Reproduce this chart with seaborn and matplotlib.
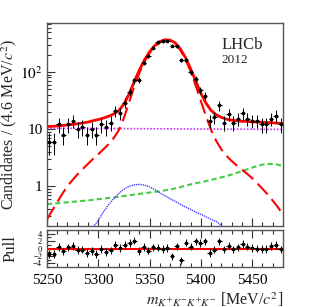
import numpy as np
import pandas as pd
import matplotlib
matplotlib.use("Agg")
import matplotlib.pyplot as plt
import seaborn as sns
from matplotlib.ticker import FixedLocator, FixedFormatter, MultipleLocator, LogLocator, NullFormatter

# binned data: 50 bins of 4.6 MeV from 5250 to 5480
bin_lo = 5250.0
bin_w = 4.6
counts = [6, 6, 12, 8, 12, 14, 10, 11, 8, 10,
          8, 12, 11, 13, 21, 19, 29, 44, 71, 72,
          144, 188, 264, 332, 345, 354, 290, 282, 160, 160,
          100, 76, 48, 38, 14, 16, 26, 13, 18, 13,
          15, 19, 15, 14, 14, 12, 12, 15, 17, 12]
pulls = [-1.5, -1.5, 0.4, -0.8, 0.3, 0.7, -0.4, -0.3, -1.2, -0.7,
         -1.5, -0.1, -0.9, -0.5, 0.9, 0.1, 0.9, 1.5, 2.1, -0.7,
         0.4, -0.6, 0.3, 0.2, -0.1, 0.1, -2.1, 0.6, -3.2, 1.6,
         0.5, 1.9, 1.5, 1.9, -1.2, -0.3, 1.9, -0.2, 0.8, -0.2,
         0.3, 1.2, 0.5, 0.1, 0.0, -0.1, -0.1, 0.7, 1.0, -0.2]

# fit components, every 5 MeV from 5250 to 5480
mass_grid = list(range(5250, 5481, 5))
signal = [0.26, 0.37, 0.52, 0.73, 1.0, 1.28, 1.62, 2.0, 2.45, 3.0,
          3.6, 4.4, 5.4, 6.9, 9.5, 15.5, 29, 55, 95, 150,
          213, 278, 328, 355, 350, 313, 243, 168, 103, 58,
          31, 17, 9.6, 6.2, 4.4, 3.4, 2.75, 2.3, 1.95, 1.65,
          1.38, 1.12, 0.9, 0.72, 0.56, 0.43, 0.32]
comb_bkg = [10.30, 10.29, 10.28, 10.27, 10.26, 10.25, 10.24, 10.23, 10.22, 10.21,
            10.20, 10.19, 10.18, 10.17, 10.16, 10.15, 10.14, 10.13, 10.12, 10.11,
            10.10, 10.09, 10.08, 10.07, 10.06, 10.05, 10.04, 10.03, 10.02, 10.01,
            10.00, 9.99, 9.98, 9.97, 9.96, 9.95, 9.94, 9.93, 9.92, 9.91,
            9.90, 9.89, 9.88, 9.87, 9.86, 9.85, 9.84]
part_reco = [0.48, 0.49, 0.50, 0.51, 0.52, 0.53, 0.54, 0.55, 0.56, 0.575,
             0.59, 0.60, 0.62, 0.63, 0.65, 0.67, 0.69, 0.71, 0.73, 0.75,
             0.77, 0.79, 0.81, 0.84, 0.87, 0.91, 0.96, 1.01, 1.07, 1.12,
             1.17, 1.22, 1.28, 1.35, 1.42, 1.50, 1.59, 1.70, 1.82, 1.96,
             2.10, 2.25, 2.37, 2.44, 2.44, 2.37, 2.26]
peaking = [np.nan] * 9 + [0.19, 0.25, 0.35, 0.47, 0.60, 0.74, 0.88, 0.99, 1.05, 1.07,
           1.04, 0.97, 0.87, 0.76, 0.68, 0.60, 0.54, 0.48, 0.43, 0.39,
           0.35, 0.32, 0.29, 0.26, 0.24, 0.205] + [np.nan] * 12

centres = bin_lo + bin_w * (np.arange(len(counts)) + 0.5)
counts = np.array(counts, dtype=float)

curves = pd.DataFrame({"m": mass_grid, "sig": signal, "comb": comb_bkg,
                       "part": part_reco, "peak": peaking})
# total fit is the sum of the components
curves["total"] = curves[["sig", "comb", "part"]].sum(axis=1) + curves["peak"].fillna(0)

sns.set_theme(style="ticks")
plt.rcParams["font.family"] = ["Liberation Serif", "DejaVu Serif"]
plt.rcParams["mathtext.fontset"] = "stix"

fig = plt.figure(figsize=(3.15, 3.07), dpi=100)
ax = fig.add_axes([0.149, 0.264, 0.749, 0.661])
axp = fig.add_axes([0.149, 0.130, 0.749, 0.121])

ax.set_yscale("log")
sns.lineplot(data=curves, x="m", y="comb", ax=ax, color="#cc33ff", lw=1.2, linestyle=(0, (1, 1)))
sns.lineplot(data=curves, x="m", y="part", ax=ax, color="#44cc44", lw=1.5, linestyle=(0, (2.5, 1.5)))
sns.lineplot(data=curves.dropna(), x="m", y="peak", ax=ax, color="#4444ff", lw=1.0, linestyle=(0, (1, 0.6)))
sns.lineplot(data=curves, x="m", y="sig", ax=ax, color="#ff0000", lw=1.5, linestyle=(0, (7, 3)))
sns.lineplot(data=curves, x="m", y="total", ax=ax, color="#ff0000", lw=2.0)
ax.errorbar(centres, counts, yerr=np.sqrt(counts), xerr=bin_w / 2, fmt="s", ms=1.7,
            color="black", ecolor="black", elinewidth=0.7, capsize=0, zorder=5)

ax.set_xlim(5250, 5480)
ax.set_ylim(0.2, 720)
ax.yaxis.set_major_locator(FixedLocator([1, 10, 100]))
ax.yaxis.set_major_formatter(FixedFormatter(["1", "10", r"$10^2$"]))
ax.yaxis.set_minor_locator(LogLocator(base=10, subs=np.arange(2, 10)))
ax.yaxis.set_minor_formatter(NullFormatter())
ax.xaxis.set_major_locator(MultipleLocator(50))
ax.xaxis.set_minor_locator(MultipleLocator(10))
ax.set_xticklabels([])
ax.set_xlabel("")
ax.set_ylabel(r"Candidates / (4.6 MeV/$c^2$)", fontsize=11.5)
ax.text(0.74, 0.93, "LHCb", transform=ax.transAxes, fontsize=12, va="top")
ax.text(0.74, 0.845, "2012", transform=ax.transAxes, fontsize=9.5, va="top")

axp.errorbar(centres, pulls, yerr=1, xerr=bin_w / 2, fmt="s", ms=1.7,
             color="black", ecolor="black", elinewidth=0.7, capsize=0, zorder=5)
axp.axhline(0, color="#ff0000", lw=1.5, zorder=4)
axp.set_xlim(5250, 5480)
axp.set_ylim(-5, 5)
axp.yaxis.set_major_locator(FixedLocator([-4, -2, 0, 2, 4]))
axp.yaxis.set_minor_locator(MultipleLocator(1))
axp.xaxis.set_major_locator(MultipleLocator(50))
axp.xaxis.set_minor_locator(MultipleLocator(10))
axp.tick_params(axis="y", labelsize=6)
axp.tick_params(axis="x", labelsize=11, pad=5)
axp.set_ylabel("Pull", fontsize=12)
axp.yaxis.set_label_coords(-0.12, 0.5)
ax.yaxis.set_label_coords(-0.12, 0.5)
axp.set_xlabel(r"$m_{K^{+}K^{-}K^{+}K^{-}}$ [MeV/$c^2$]", fontsize=11.5, loc="right", labelpad=2)

for a in (ax, axp):
    a.tick_params(which="both", direction="in", colors="#333333", labelcolor="black", width=0.8)
    a.tick_params(which="major", length=6)
    a.tick_params(which="minor", length=3)
    for s in a.spines.values():
        s.set_color("#555555")
        s.set_linewidth(1.0)
axp.tick_params(axis="x", which="both", top=True)
ax.tick_params(axis="y", labelsize=11, pad=3)

fig.savefig("out.png", dpi=100)
